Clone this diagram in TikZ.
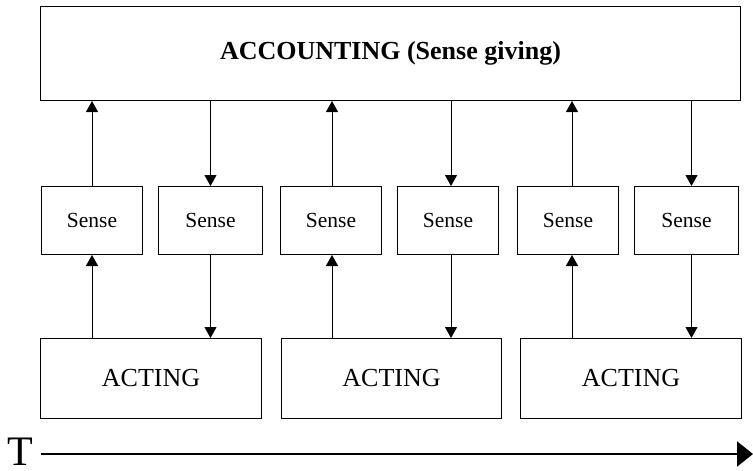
\documentclass[tikz,border=0pt]{standalone}
\usepackage{fontspec}
\setmainfont{Liberation Serif}
\usetikzlibrary{arrows.meta}

\begin{document}
\begin{tikzpicture}[x=1pt, y=-1pt,
  box/.style={draw, line width=1pt, inner sep=0pt, anchor=north west},
  sensebox/.style={box, minimum width=101pt, minimum height=68pt, font=\fontsize{21.5}{24}\selectfont},
  actbox/.style={box, minimum width=221pt, minimum height=80pt, font=\fontsize{26}{30}\selectfont},
  flow/.style={line width=1pt, -{Triangle[length=11pt, width=12pt]}},
  timeline/.style={line width=2pt, -{Triangle[length=16pt, width=25pt]}}
]
\useasboundingbox (0,0) rectangle (753,471);

% sense-giving layer
\node[box, minimum width=700pt, minimum height=94pt, font=\bfseries\fontsize{26}{30}\selectfont]
  (acc) at (40,6) {ACCOUNTING (Sense giving)};

% sensemaking boxes
\node[sensebox] (s1) at (41,186)  {Sense};
\node[sensebox, minimum width=104pt] (s2) at (158,186) {Sense};
\node[sensebox] (s3) at (280,186) {Sense};
\node[sensebox] (s4) at (397,186) {Sense};
\node[sensebox] (s5) at (517,186) {Sense};
\node[sensebox, minimum width=104pt] (s6) at (634,186) {Sense};

% acting boxes
\node[actbox] (a1) at (40,338)  {ACTING};
\node[actbox, minimum width=220pt] (a2) at (281,338) {ACTING};
\node[actbox] (a3) at (520,338) {ACTING};

% sense rising to accounting, accounting handed back down;
% each pair of vertical links sits a little right of its box centre
\foreach \up/\down/\act/\du/\dd in {s1/s2/a1/0/0, s3/s4/a2/1/3, s5/s6/a3/4/5}{
  \draw[flow] ([xshift=\du pt]\up.north) -- ([xshift=\du pt]\up.north |- acc.south);
  \draw[flow] ([xshift=\dd pt]\down.north |- acc.south) -- ([xshift=\dd pt]\down.north);
  \draw[flow] ([xshift=\du pt]\up.south |- \act.north) -- ([xshift=\du pt]\up.south);
  \draw[flow] ([xshift=\dd pt]\down.south) -- ([xshift=\dd pt]\down.south |- \act.north);
}

% time axis
\node[font=\fontsize{42}{46}\selectfont, inner sep=0pt, anchor=base] (T) at (20,465) {T};
\coordinate (tstart) at (41,454);
\coordinate (tend) at (753,454);
\draw[timeline] (tstart) -- (tend);
\end{tikzpicture}
\end{document}
